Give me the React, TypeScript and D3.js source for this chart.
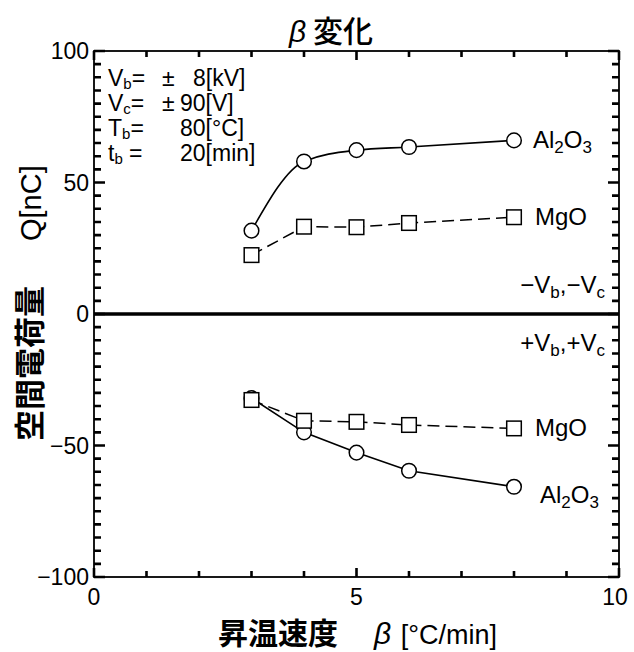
import React from 'react'
import * as d3 from 'd3'

// heating rate beta [°C/min]
const rates = [3, 4, 5, 6, 8]
// space charge Q [nC], -Vb,-Vc side (upper half)
const al2o3Neg = [31.7, 58, 62.3, 63.5, 66]
const mgoNeg = [22.4, 33.2, 33, 34.6, 36.8]
// +Vb,+Vc side (lower half)
const al2o3Pos = [-32, -45, -52.7, -59.6, -65.7]
const mgoPos = [-32.7, -40.6, -41, -42.2, -43.5]

const xTickLabels = [0, 5, 10]
const yTickLabels = [100, 50, 0, -50, -100]

const font = '"Liberation Sans", Arial, sans-serif'
const jpFont = '"Noto Sans CJK JP", sans-serif'

const Sub = ({ base, sub, rest = '' }) => (
    <>
        {base}<tspan fontSize={15} dy={3}>{sub}</tspan><tspan dy={-3}>{rest}</tspan>
    </>
)

const App = () => {
    const width = 634
    const height = 652
    const left = 94, right = 619, top = 51, bottom = 577

    const x = d3.scaleLinear().domain([0, 10]).range([left, right])
    const y = d3.scaleLinear().domain([-100, 100]).range([bottom, top])

    const lineLin = d3.line<number>()
          .x((d, i) => x(rates[i]))
          .y(d => y(d))
    const lineSmooth = d3.line<number>()
          .x((d, i) => x(rates[i]))
          .y(d => y(d))
          .curve(d3.curveMonotoneX)

    const xMinor = x.ticks(10)
    const yMinor = y.ticks(40)

    // all tick marks as one path, drawn inward on all four sides
    const parts = []
    xMinor.forEach(t => {
        const len = t % 5 === 0 ? 9 : 6
        parts.push(`M${x(t)} ${bottom}L${x(t)} ${bottom - len}`)
        parts.push(`M${x(t)} ${top}L${x(t)} ${top + len}`)
    })
    yMinor.forEach(t => {
        const len = Math.abs(t) % 50 === 0 ? 11 : 7
        parts.push(`M${left} ${y(t)}L${left + len} ${y(t)}`)
        parts.push(`M${right} ${y(t)}L${right - len} ${y(t)}`)
    })
    const tickPath = parts.join('')

    const circles = (vals, key) => vals.map((v, i) => (
        <circle key={`${key}${i}`} cx={x(rates[i])} cy={y(v)} r={7.3}
            fill="#fff" stroke="#000" strokeWidth={1.5} />
    ))
    const squares = (vals, key) => vals.map((v, i) => (
        <rect key={`${key}${i}`} x={x(rates[i]) - 7.3} y={y(v) - 7.3} width={14.6} height={14.6}
            fill="#fff" stroke="#000" strokeWidth={1.5} />
    ))

    const last = rates.length - 1
    const lx = x(rates[last]) + 20

    return (
        <svg width={width} height={height} style={{ position: 'absolute', left: 0, top: 0 }}>
            <rect width={width} height={height} fill="#fff" />

            {/* title */}
            <text x={331} y={42} fontSize={30} textAnchor="middle" fontFamily={jpFont} fontWeight={500}>
                <tspan fontFamily={font} fontStyle="italic" fontWeight={400}>β</tspan> 変化
            </text>

            {/* frame + ticks */}
            <path d={tickPath} fill="none" stroke="#000" strokeWidth={2.6} />
            <rect x={left} y={top} width={right - left} height={bottom - top}
                fill="none" stroke="#000" strokeWidth={1.8} />
            <line x1={left} x2={right} y1={y(0)} y2={y(0)} stroke="#000" strokeWidth={3.5} />

            {/* tick labels */}
            {xTickLabels.map(t => (
                <text key={`xl${t}`} x={x(t) - (t === 10 ? 4 : 0)} y={605} fontSize={23} textAnchor="middle" fontFamily={font}>{t}</text>
            ))}
            {yTickLabels.map(t => (
                <text key={`yl${t}`} x={left - 5} y={y(t) + 8} fontSize={23} textAnchor="end" fontFamily={font}>
                    {t < 0 ? `\u2212${-t}` : t}
                </text>
            ))}

            {/* axis titles */}
            <text x={218} y={644} fontSize={30} textAnchor="start" fontFamily={jpFont} fontWeight={700}>
                昇温速度　<tspan fontFamily={font} fontStyle="italic" fontWeight={400} dx={6}>β</tspan>
                <tspan fontFamily={font} fontWeight={400} fontSize={27} dx={2}> [°C/min]</tspan>
            </text>
            <text transform="translate(41,441) rotate(-90)" fontSize={31} textAnchor="start"
                fontFamily={jpFont} fontWeight={700}>
                空間電荷量　<tspan fontFamily={font} fontWeight={400} fontSize={29} dx={14}>Q[nC]</tspan>
            </text>

            {/* series */}
            <path d={lineSmooth(al2o3Neg)} fill="none" stroke="#000" strokeWidth={1.6} />
            <path d={lineLin(mgoNeg)} fill="none" stroke="#000" strokeWidth={1.5} strokeDasharray="12 6" />
            <path d={lineLin(mgoPos)} fill="none" stroke="#000" strokeWidth={1.5} strokeDasharray="12 6" />
            <path d={lineLin(al2o3Pos)} fill="none" stroke="#000" strokeWidth={1.6} />
            {circles(al2o3Pos, 'ap')}
            {squares(mgoPos, 'mp')}
            {circles(al2o3Neg, 'an')}
            {squares(mgoNeg, 'mn')}

            {/* series labels */}
            <g fontFamily={font} fontSize={24}>
                <text x={lx - 1} y={y(al2o3Neg[last]) + 8}>Al<tspan fontSize={17} dy={5}>2</tspan><tspan dy={-5}>O</tspan><tspan fontSize={17} dy={5}>3</tspan></text>
                <text x={lx + 1} y={y(mgoNeg[last]) + 8}>MgO</text>
                <text x={lx + 1} y={y(mgoPos[last]) + 8}>MgO</text>
                <text x={lx + 6} y={y(al2o3Pos[last]) + 16}>Al<tspan fontSize={17} dy={5}>2</tspan><tspan dy={-5}>O</tspan><tspan fontSize={17} dy={5}>3</tspan></text>
                <text x={605} y={293} textAnchor="end">−V<tspan fontSize={17} dy={5}>b</tspan><tspan dy={-5}>,−V</tspan><tspan fontSize={17} dy={5}>c</tspan></text>
                <text x={605} y={351} textAnchor="end">+V<tspan fontSize={17} dy={5}>b</tspan><tspan dy={-5}>,+V</tspan><tspan fontSize={17} dy={5}>c</tspan></text>
            </g>

            {/* conditions */}
            <g fontFamily={font} fontSize={23}>
                <text x={108} y={86}><Sub base="V" sub="b" rest="=" /></text>
                <text x={162} y={86}>±</text>
                <text x={193} y={86}>8[kV]</text>
                <text x={108} y={111}><Sub base="V" sub="c" rest="=" /></text>
                <text x={162} y={111}>±</text>
                <text x={180} y={111}>90[V]</text>
                <text x={108} y={136}><Sub base="T" sub="b" rest="=" /></text>
                <text x={180} y={136}>80[°C]</text>
                <text x={108} y={161}><Sub base="t" sub="b" rest=" =" /></text>
                <text x={180} y={161}>20[min]</text>
            </g>
        </svg>
    )
}

export default App
